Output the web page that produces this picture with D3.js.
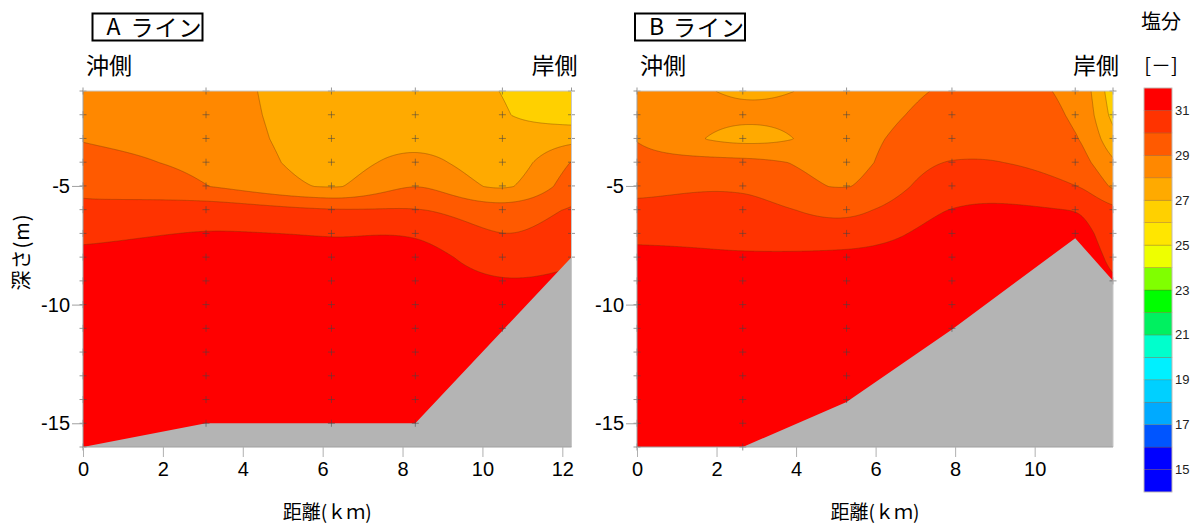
<!DOCTYPE html>
<html>
<head>
<meta charset="utf-8">
<script src="https://cdn.jsdelivr.net/npm/d3@7"></script>
<style>
  body { margin: 0; background: #fff; }
  svg text { font-family: "Noto Sans CJK JP", "Noto Sans", sans-serif; }
  .num { font-family: "Liberation Sans", Arial, sans-serif; }
</style>
</head>
<body>
<div id="chart"></div>
<script>
// depths of the measurement rows (m)
const depths = d3.range(-1, -17, -1);
const yTicks = [-5, -10, -15];
const xTicksA = [0, 2, 4, 6, 8, 10, 12];
const xTicksB = [0, 2, 4, 6, 8, 10];

// salinity bands, lower bound of each band
const levels = d3.range(14, 32);
const bandColors = ["#0000ff", "#0000ff", "#0055ff", "#00aaff", "#00d0ff", "#00f0ff", "#00ffcc", "#00f060",
  "#00ff00", "#80ff00", "#eeff00", "#ffe600", "#ffd000", "#ffaa00", "#ff8800", "#ff5a00", "#ff3300", "#ff0000"];
const legendLabels = [15, 17, 19, 21, 23, 25, 27, 29, 31];

// A line: station distance (km), sea floor (m), salinity profile at -1..-16 m
const stationsA = [0, 3.08, 6.22, 8.32, 10.5, 12.23];
const floorA = [-16, -15, -15, -15, -11.1, -8];
const salinityA = [
  [28.3, 28.6, 28.95, 29.3, 29.8, 30.2, 30.75, 31.3, 31.5, 31.6, 31.6, 31.6, 31.6, 31.7, 31.7, 31.7],
  [28.4, 28.45, 28.55, 28.75, 29.02, 30.6, 31.05, 31.5, 31.6, 31.6, 31.6, 31.6, 31.6, 31.6, 31.6, 31.6],
  [27.3, 27.4, 27.5, 27.65, 27.95, 30.1, 30.95, 31.35, 31.6, 31.6, 31.6, 31.6, 31.6, 31.6, 31.6, 31.6],
  [27.2, 27.35, 27.6, 28.3, 28.98, 30.05, 30.9, 31.4, 31.6, 31.6, 31.6, 31.6, 31.6, 31.6, 31.6, 31.6],
  [26.98, 27.05, 27.3, 27.5, 27.9, 29.5, 30.02, 30.5, 31.1, 31.5, 31.5, 31.6, 31.6, 31.6, 31.6, 31.6],
  [26.3, 26.5, 27.7, 29.05, 29.5, 30.1, 30.5, 30.85, 31.2, 31.4, 31.5, 31.5, 31.5, 31.5, 31.5, 31.5]
];

// B line
const stationsB = [0, 2.66, 5.27, 7.92, 11.02, 11.97];
const floorB = [-16, -16, -14.1, -11.05, -7.2, -9];
const salinityB = [
  [28.6, 28.75, 28.95, 29.3, 29.8, 30.2, 30.75, 31.3, 31.5, 31.6, 31.6, 31.6, 31.6, 31.7, 31.7, 31.7],
  [27.9, 28.2, 27.7, 29.3, 29.85, 30.35, 30.75, 31.1, 31.4, 31.6, 31.6, 31.6, 31.6, 31.6, 31.6, 31.6],
  [28.3, 28.5, 28.6, 28.75, 28.98, 29.8, 30.45, 31.3, 31.6, 31.6, 31.6, 31.6, 31.6, 31.6, 31.6, 31.6],
  [29.1, 29.3, 29.55, 30.05, 30.6, 31.03, 31.4, 31.6, 31.6, 31.6, 31.6, 31.6, 31.6, 31.6, 31.6, 31.6],
  [28.7, 28.85, 29.05, 29.4, 30.02, 30.97, 31.3, 31.5, 31.5, 31.5, 31.5, 31.5, 31.5, 31.5, 31.5, 31.5],
  [26.4, 26.7, 27.35, 28.15, 28.85, 30.3, 30.55, 30.8, 31.1, 31.4, 31.4, 31.4, 31.4, 31.4, 31.4, 31.4]
];

const W = 1197, H = 524;
const svg = d3.select("#chart").append("svg")
  .attr("width", W).attr("height", H);

const color = d3.scaleThreshold().domain(levels.slice(1)).range(bandColors);

// cubic hermite through the stations (catmull-rom style tangents)
function hermite(xs, vs, x) {
  const n = xs.length;
  x = Math.max(xs[0], Math.min(xs[n - 1], x));
  let i = 0;
  while (i < n - 2 && x > xs[i + 1]) i++;
  const tan = k => k === 0 ? (vs[1] - vs[0]) / (xs[1] - xs[0])
    : k === n - 1 ? (vs[n - 1] - vs[n - 2]) / (xs[n - 1] - xs[n - 2])
    : (vs[k + 1] - vs[k - 1]) / (xs[k + 1] - xs[k - 1]);
  const h = xs[i + 1] - xs[i], t = (x - xs[i]) / h;
  const t2 = t * t, t3 = t2 * t;
  return (2 * t3 - 3 * t2 + 1) * vs[i] + (t3 - 2 * t2 + t) * h * tan(i)
    + (-2 * t3 + 3 * t2) * vs[i + 1] + (t3 - t2) * h * tan(i + 1);
}

function drawSection(cfg) {
  const x = d3.scaleLinear().domain([0, cfg.xMax]).range(cfg.xRange);
  const y = d3.scaleLinear().domain([-1, -16]).range([91, 447]);
  const [left, right] = cfg.xRange;
  const g = svg.append("g");

  g.append("clipPath").attr("id", cfg.id + "clip")
    .append("rect").attr("x", left).attr("y", 91)
    .attr("width", right - left).attr("height", 447 - 91);

  // grid of interpolated salinity, one value per pixel
  const gx0 = Math.floor(left) - 2, gx1 = Math.ceil(right) + 2;
  const gy0 = 89, gy1 = 449;
  const nx = gx1 - gx0 + 1, ny = gy1 - gy0 + 1;
  const grid = new Float64Array(nx * ny);
  const rows = depths.map((d, k) => cfg.salinity.map(p => p[k]));
  for (let i = 0; i < nx; i++) {
    const km = x.invert(gx0 + i);
    const col = rows.map(r => hermite(cfg.stations, r, km));
    for (let j = 0; j < ny; j++) {
      const f = Math.max(0, Math.min(15, -1 - y.invert(gy0 + j)));
      const k = Math.min(Math.floor(f), 14), t = f - k;
      grid[j * nx + i] = col[k] * (1 - t) + col[k + 1] * t;
    }
  }
  const contours = d3.contours().size([nx, ny]).thresholds(levels)(grid);
  const path = d3.geoPath(d3.geoIdentity().translate([gx0, gy0]));

  const plot = g.append("g").attr("clip-path", "url(#" + cfg.id + "clip)");
  plot.selectAll("path.band")
    .data(contours)
    .join("path")
    .attr("class", "band")
    .attr("d", path)
    .attr("fill", d => color(d.value))
    .attr("stroke", "#6b3a00")
    .attr("stroke-opacity", 0.55)
    .attr("stroke-width", 0.7);

  // sea floor
  const floorPts = cfg.stations.map((s, i) => [s, cfg.floor[i]]);
  floorPts.push([cfg.xMax, -16], [0, -16]);
  plot.append("path")
    .datum(floorPts)
    .attr("fill", "#b4b4b4")
    .attr("d", d3.line().x(d => x(d[0])).y(d => y(d[1])));

  // measurement points
  const pts = [];
  cfg.stations.forEach((s, i) => depths.forEach(d => {
    if (d >= cfg.floor[i] - 0.2) pts.push([s, d]);
  }));
  g.append("g").selectAll("path")
    .data(pts)
    .join("path")
    .attr("d", d => `M${x(d[0]) - 3.5},${y(d[1])}h7M${x(d[0])},${y(d[1]) - 3.5}v7`)
    .attr("stroke", "#444")
    .attr("stroke-opacity", 0.7)
    .attr("stroke-width", 0.8);

  // frame
  g.append("path")
    .attr("d", `M${left},91H${right}V447`)
    .attr("fill", "none").attr("stroke", "#c8c8c8").attr("stroke-width", 1);
  g.append("path")
    .attr("d", `M${left},91V447H${right}`)
    .attr("fill", "none").attr("stroke", "#a0a0a0").attr("stroke-width", 1);

  // x axis
  const xa = g.append("g").attr("transform", "translate(0,447)")
    .call(d3.axisBottom(x).tickValues(cfg.xTicks).tickSize(10).tickSizeOuter(0).tickPadding(5));
  xa.select(".domain").remove();
  xa.selectAll("line").attr("stroke", "#b0b0b0");
  xa.selectAll("text").attr("class", "num").attr("font-size", 20).attr("fill", "#000");

  // y axis
  const ya = g.append("g").attr("transform", `translate(${left},0)`)
    .call(d3.axisLeft(y).tickValues(yTicks).tickFormat(d => String(d))
      .tickSize(11).tickSizeOuter(0).tickPadding(2));
  ya.select(".domain").remove();
  ya.selectAll("line").attr("stroke", "#a0a0a0");
  ya.selectAll("text").attr("class", "num").attr("font-size", 20).attr("fill", "#000");

  // labels
  g.append("rect")
    .attr("x", cfg.boxX).attr("y", 13.5).attr("width", 110).attr("height", 27)
    .attr("fill", "#fff").attr("stroke", "#000").attr("stroke-width", 2);
  g.append("text").attr("x", cfg.boxX + 14).attr("y", 35)
    .attr("font-size", 23).text(cfg.letter);
  g.append("text").attr("x", cfg.boxX + 38).attr("y", 36)
    .attr("font-size", 23).attr("letter-spacing", 1).text("ライン");
  g.append("text").attr("x", left + 3).attr("y", 74)
    .attr("font-size", 23).text("沖側");
  g.append("text").attr("x", right + 6).attr("y", 74).attr("text-anchor", "end")
    .attr("font-size", 23).text("岸側");
  g.append("text").attr("x", (left + right) / 2).attr("y", 519)
    .attr("text-anchor", "middle").attr("font-size", 19).text("距離(ｋｍ)");
}

drawSection({ id: "a", letter: "A", xMax: 12.23, xRange: [83, 571.5], boxX: 92.5,
  stations: stationsA, floor: floorA, salinity: salinityA, xTicks: xTicksA });
drawSection({ id: "b", letter: "B", xMax: 11.97, xRange: [637, 1113], boxX: 635,
  stations: stationsB, floor: floorB, salinity: salinityB, xTicks: xTicksB });

// y axis title
svg.append("text")
  .attr("transform", "translate(29,252) rotate(-90)")
  .attr("text-anchor", "middle").attr("font-size", 20).attr("letter-spacing", 1)
  .text("深さ(m)");

// legend
const ly = d3.scaleLinear().domain([14, 32]).range([492, 88]);
const legend = svg.append("g");
legend.selectAll("rect")
  .data(levels)
  .join("rect")
  .attr("x", 1144).attr("width", 28)
  .attr("y", d => ly(d + 1)).attr("height", d => ly(d) - ly(d + 1))
  .attr("fill", d => color(d))
  .attr("stroke", "#7a4a20").attr("stroke-opacity", 0.45).attr("stroke-width", 0.6);
legend.append("rect")
  .attr("x", 1144).attr("y", 88).attr("width", 28).attr("height", 404)
  .attr("fill", "none").attr("stroke", "#d0d0d0").attr("stroke-width", 0.8);
legend.selectAll("text.lab")
  .data(legendLabels)
  .join("text")
  .attr("class", "lab num")
  .attr("x", 1175).attr("y", d => ly(d) + 4.5)
  .attr("font-size", 13).attr("fill", "#222")
  .text(d => d);
svg.append("text").attr("x", 1161).attr("y", 29).attr("text-anchor", "middle")
  .attr("font-size", 20).text("塩分");
svg.append("text").attr("x", 1161).attr("y", 73).attr("text-anchor", "middle")
  .attr("font-size", 20).text("[－]");
</script>
</body>
</html>
